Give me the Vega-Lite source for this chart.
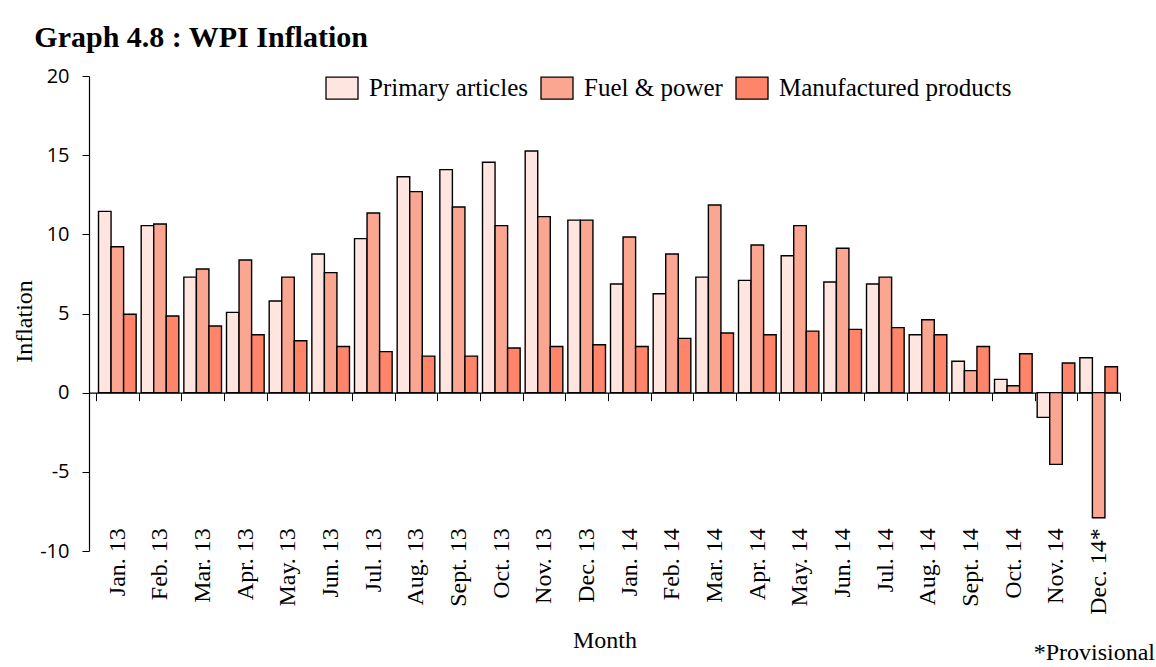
{
  "$schema": "https://vega.github.io/schema/vega-lite/v6.json",
  "padding": {"left": 12, "top": 23, "right": 0, "bottom": 0},
  "background": "#ffffff",
  "title": {
    "text": "Graph 4.8 : WPI Inflation",
    "anchor": "start",
    "font": "Liberation Serif",
    "fontSize": 30,
    "fontWeight": "bold",
    "color": "#000000",
    "dx": 22,
    "offset": 13
  },
  "config": {
    "view": {"stroke": null},
    "axis": {"grid": false}
  },
  "vconcat": [
    {
      "width": 1031,
      "height": 475,
      "title": {
        "text": "*Provisional",
        "orient": "bottom",
        "anchor": "end",
        "frame": "group",
        "font": "Liberation Serif",
        "fontSize": 24,
        "fontWeight": "normal",
        "color": "#000000",
        "dx": 35,
        "offset": -12
      },
      "data": {
        "values": [
          {"month": "Jan. 13", "series": "Primary articles", "value": 11.45},
          {"month": "Jan. 13", "series": "Fuel & power", "value": 9.22},
          {"month": "Jan. 13", "series": "Manufactured products", "value": 4.95},
          {"month": "Feb. 13", "series": "Primary articles", "value": 10.55},
          {"month": "Feb. 13", "series": "Fuel & power", "value": 10.65},
          {"month": "Feb. 13", "series": "Manufactured products", "value": 4.84},
          {"month": "Mar. 13", "series": "Primary articles", "value": 7.30},
          {"month": "Mar. 13", "series": "Fuel & power", "value": 7.81},
          {"month": "Mar. 13", "series": "Manufactured products", "value": 4.21},
          {"month": "Apr. 13", "series": "Primary articles", "value": 5.07},
          {"month": "Apr. 13", "series": "Fuel & power", "value": 8.38},
          {"month": "Apr. 13", "series": "Manufactured products", "value": 3.66},
          {"month": "May. 13", "series": "Primary articles", "value": 5.79},
          {"month": "May. 13", "series": "Fuel & power", "value": 7.30},
          {"month": "May. 13", "series": "Manufactured products", "value": 3.28},
          {"month": "Jun. 13", "series": "Primary articles", "value": 8.76},
          {"month": "Jun. 13", "series": "Fuel & power", "value": 7.58},
          {"month": "Jun. 13", "series": "Manufactured products", "value": 2.92},
          {"month": "Jul. 13", "series": "Primary articles", "value": 9.73},
          {"month": "Jul. 13", "series": "Fuel & power", "value": 11.35},
          {"month": "Jul. 13", "series": "Manufactured products", "value": 2.59},
          {"month": "Aug. 13", "series": "Primary articles", "value": 13.64},
          {"month": "Aug. 13", "series": "Fuel & power", "value": 12.70},
          {"month": "Aug. 13", "series": "Manufactured products", "value": 2.31},
          {"month": "Sept. 13", "series": "Primary articles", "value": 14.09},
          {"month": "Sept. 13", "series": "Fuel & power", "value": 11.73},
          {"month": "Sept. 13", "series": "Manufactured products", "value": 2.31},
          {"month": "Oct. 13", "series": "Primary articles", "value": 14.55},
          {"month": "Oct. 13", "series": "Fuel & power", "value": 10.55},
          {"month": "Oct. 13", "series": "Manufactured products", "value": 2.82},
          {"month": "Nov. 13", "series": "Primary articles", "value": 15.26},
          {"month": "Nov. 13", "series": "Fuel & power", "value": 11.12},
          {"month": "Nov. 13", "series": "Manufactured products", "value": 2.92},
          {"month": "Dec. 13", "series": "Primary articles", "value": 10.90},
          {"month": "Dec. 13", "series": "Fuel & power", "value": 10.90},
          {"month": "Dec. 13", "series": "Manufactured products", "value": 3.03},
          {"month": "Jan. 14", "series": "Primary articles", "value": 6.86},
          {"month": "Jan. 14", "series": "Fuel & power", "value": 9.83},
          {"month": "Jan. 14", "series": "Manufactured products", "value": 2.92},
          {"month": "Feb. 14", "series": "Primary articles", "value": 6.25},
          {"month": "Feb. 14", "series": "Fuel & power", "value": 8.76},
          {"month": "Feb. 14", "series": "Manufactured products", "value": 3.43},
          {"month": "Mar. 14", "series": "Primary articles", "value": 7.30},
          {"month": "Mar. 14", "series": "Fuel & power", "value": 11.85},
          {"month": "Mar. 14", "series": "Manufactured products", "value": 3.77},
          {"month": "Apr. 14", "series": "Primary articles", "value": 7.09},
          {"month": "Apr. 14", "series": "Fuel & power", "value": 9.33},
          {"month": "Apr. 14", "series": "Manufactured products", "value": 3.66},
          {"month": "May. 14", "series": "Primary articles", "value": 8.65},
          {"month": "May. 14", "series": "Fuel & power", "value": 10.55},
          {"month": "May. 14", "series": "Manufactured products", "value": 3.89},
          {"month": "Jun. 14", "series": "Primary articles", "value": 6.99},
          {"month": "Jun. 14", "series": "Fuel & power", "value": 9.12},
          {"month": "Jun. 14", "series": "Manufactured products", "value": 4.00},
          {"month": "Jul. 14", "series": "Primary articles", "value": 6.86},
          {"month": "Jul. 14", "series": "Fuel & power", "value": 7.30},
          {"month": "Jul. 14", "series": "Manufactured products", "value": 4.11},
          {"month": "Aug. 14", "series": "Primary articles", "value": 3.66},
          {"month": "Aug. 14", "series": "Fuel & power", "value": 4.61},
          {"month": "Aug. 14", "series": "Manufactured products", "value": 3.66},
          {"month": "Sept. 14", "series": "Primary articles", "value": 1.98},
          {"month": "Sept. 14", "series": "Fuel & power", "value": 1.39},
          {"month": "Sept. 14", "series": "Manufactured products", "value": 2.92},
          {"month": "Oct. 14", "series": "Primary articles", "value": 0.84},
          {"month": "Oct. 14", "series": "Fuel & power", "value": 0.44},
          {"month": "Oct. 14", "series": "Manufactured products", "value": 2.46},
          {"month": "Nov. 14", "series": "Primary articles", "value": -1.56},
          {"month": "Nov. 14", "series": "Fuel & power", "value": -4.53},
          {"month": "Nov. 14", "series": "Manufactured products", "value": 1.87},
          {"month": "Dec. 14*", "series": "Primary articles", "value": 2.21},
          {"month": "Dec. 14*", "series": "Fuel & power", "value": -7.90},
          {"month": "Dec. 14*", "series": "Manufactured products", "value": 1.64}
        ]
      },
      "mark": {"type": "bar", "stroke": "#000000", "strokeWidth": 1.4},
      "encoding": {
        "x": {
          "field": "month",
          "type": "nominal",
          "sort": null,
          "scale": {"paddingInner": 0, "paddingOuter": 0.082, "align": 1},
          "axis": {
            "orient": "bottom",
            "offset": -158.33,
            "title": "Month",
            "titleFont": "Liberation Serif",
            "titleFontSize": 24,
            "titleFontWeight": "normal",
            "titleColor": "#000000",
            "titleBaseline": "alphabetic",
            "titleY": 255,
            "labelAngle": -90,
            "labelAlign": "right",
            "labelBaseline": "middle",
            "labelFont": "Liberation Serif",
            "labelFontSize": 24,
            "labelColor": "#000000",
            "labelPadding": 127,
            "labelLimit": 300,
            "tickBand": "extent",
            "tickSize": 8,
            "tickColor": "#000000",
            "tickWidth": 1,
            "domainColor": "#000000",
            "domainWidth": 1.2
          }
        },
        "xOffset": {
          "field": "series",
          "type": "nominal",
          "sort": ["Primary articles", "Fuel & power", "Manufactured products"],
          "scale": {"paddingInner": 0, "paddingOuter": 0.2}
        },
        "y": {
          "field": "value",
          "type": "quantitative",
          "scale": {"domain": [-10, 20], "nice": false, "zero": false},
          "axis": {
            "values": [-10, -5, 0, 5, 10, 15, 20],
            "labelExpr": "toString(datum.value)",
            "title": "Inflation",
            "titleFont": "Liberation Serif",
            "titleFontSize": 24,
            "titleFontWeight": "normal",
            "titleColor": "#000000",
            "titleBaseline": "alphabetic",
            "titleAlign": "center",
            "titleX": -57.7,
            "titleY": 245,
            "labelFont": "Open Sans",
            "labelFontSize": 20,
            "labelColor": "#000000",
            "labelPadding": 13,
            "tickSize": 7,
            "tickColor": "#000000",
            "domainColor": "#000000",
            "domainWidth": 1.2,
            "grid": false
          }
        },
        "color": {
          "field": "series",
          "type": "nominal",
          "scale": {
            "domain": ["Primary articles", "Fuel & power", "Manufactured products"],
            "range": ["#FFE5E0", "#FBA690", "#FE846A"]
          },
          "legend": {
            "title": null,
            "orient": "none",
            "legendX": 236,
            "legendY": -5,
            "direction": "horizontal",
            "columns": 3,
            "padding": 0,
            "symbolType": "M-1,-0.6875H1V0.6875H-1Z",
            "symbolSize": 1024,
            "symbolStrokeColor": "#000000",
            "symbolStrokeWidth": 1.3,
            "symbolOpacity": 1,
            "labelFont": "Liberation Serif",
            "labelFontSize": 25,
            "labelColor": "#000000",
            "labelOffset": 10,
            "labelLimit": 400,
            "columnPadding": 10
          }
        }
      }
    }
  ]
}
